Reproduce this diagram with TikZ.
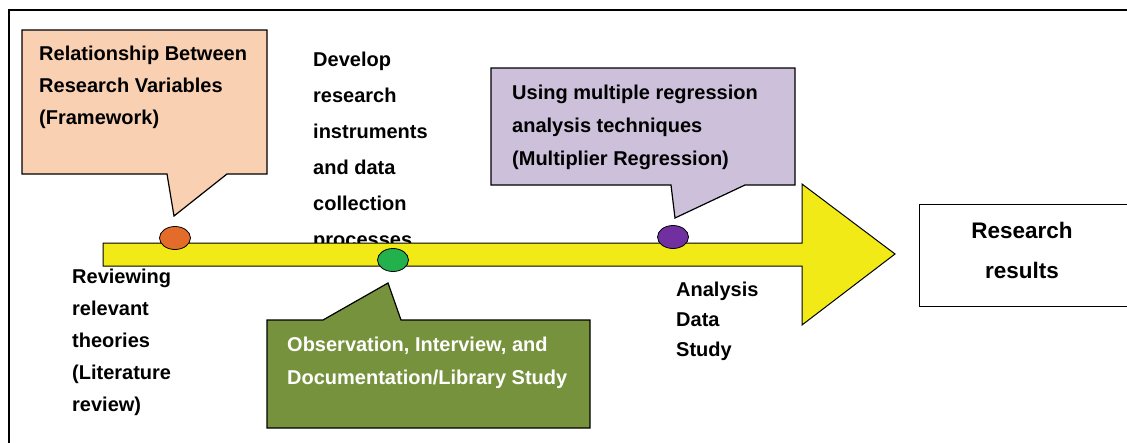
\documentclass[tikz,border=0pt]{standalone}
\usepackage{fontspec}
\setmainfont{Liberation Sans}
\usetikzlibrary{shapes.geometric}
\definecolor{peach}{HTML}{FAD0B2}
\definecolor{lilac}{HTML}{CCC0DA}
\definecolor{olive}{HTML}{76923C}
\definecolor{arrowyellow}{HTML}{F2EA17}
\definecolor{dotorange}{HTML}{E46C2A}
\definecolor{dotgreen}{HTML}{22B14C}
\definecolor{dotpurple}{HTML}{7030A0}
\begin{document}
\begin{tikzpicture}[x=1pt,y=-1pt,
  txt/.style={font=\bfseries\fontsize{20}{#1}\selectfont, align=left, inner sep=0pt, anchor=base west},
  callout/.style={draw=black, line width=1.2pt},
  dot/.style={ellipse, draw=black, line width=0.8pt, minimum width=31pt, minimum height=23pt, inner sep=0pt},
  resultbox/.style={draw=black, line width=1pt, minimum width=210pt, minimum height=102pt, inner sep=0pt}]
\useasboundingbox (0,0) rectangle (1127,442);
\fill[white] (0,0) rectangle (1127,442);
\draw[line width=1.5pt] (9,443) -- (9,10) -- (1128,10);
% callouts
\draw[callout, fill=peach] (22,30) -- (267,30) -- (267,174) -- (227,174) -- (174,216) -- (167,174) -- (22,174) -- cycle;
\draw[callout, fill=lilac] (491,68) -- (795,68) -- (795,185) -- (745,185) -- (675,218) -- (671,185) -- (491,185) -- cycle;
\draw[callout, fill=olive] (267,320) -- (323,320) -- (388,283) -- (401,320) -- (590,320) -- (590,428) -- (267,428) -- cycle;
% texts in callouts (anchored at the baseline of the last line)
\node[txt=32] (tframe) at (39,124) {Relationship Between\\Research Variables\\(Framework)};
\node[txt=33] (tregr) at (512,165) {Using multiple regression\\analysis techniques\\(Multiplier Regression)};
\node[txt=33, text=white] (tobs) at (287,384) {Observation, Interview, and\\Documentation/Library Study};
% develop text (partly hidden by the arrow)
\node[txt=36] (tdev) at (313,246) {Develop\\research\\instruments\\and data\\collection\\processes};
% arrow
\draw[fill=arrowyellow, draw=black, line width=1pt] (103,243) -- (802,243) -- (802,184) -- (895,254) -- (802,325) -- (802,266) -- (103,266) -- cycle;
% dots
\node[dot, fill=dotorange] (d1) at (175,238) {};
\node[dot, fill=dotgreen] (d2) at (393,260) {};
\node[dot, fill=dotpurple] (d3) at (673,237) {};
% lower texts
\node[txt=32] (trev) at (72,411) {Reviewing\\relevant\\theories\\(Literature\\review)};
\node[txt=30] (tana) at (676,356) {Analysis\\Data\\Study};
% result
\node[resultbox] (res) at (1024,255) {};
\node[font=\bfseries\fontsize{22.5}{40}\selectfont, align=center, inner sep=0pt, anchor=base] (tres) at (1022,278) {Research\\results};
\end{tikzpicture}
\end{document}
